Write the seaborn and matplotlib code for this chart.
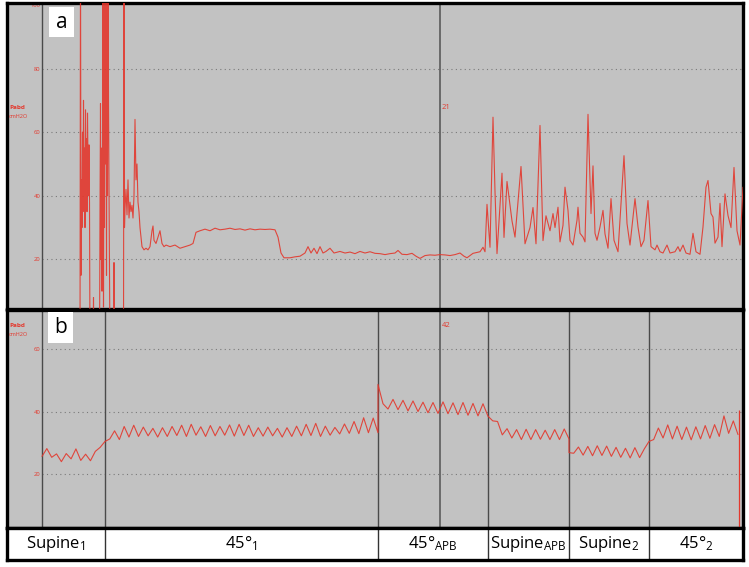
import numpy as np
import pandas as pd
import seaborn as sns
import matplotlib.pyplot as plt
from matplotlib.patches import Rectangle

# Panel a: Pabd trace (cmH2O) against time (s)
a_time = [19.0, 19.25, 19.5, 19.75, 20.0, 20.25, 20.5, 20.75, 21.0, 21.25, 21.5, 21.75,
          22.0, 22.25, 22.5, 22.75, 23.0, 23.25, 23.5, 23.75, 24.0, 25.5, 25.75, 26.0,
          28.75, 29.0, 29.25, 29.5, 29.75, 30.0, 30.25, 30.5, 30.75, 31.0, 31.25, 31.5,
          31.75, 32.0, 32.25, 32.5, 32.75, 33.0, 33.25, 33.5, 34.0, 35.75, 36.0, 36.25,
          40.75, 41.0, 41.25, 41.5, 42.0, 42.5, 43.0, 43.5, 44.0, 44.5, 45.0, 45.5,
          46.0, 46.5, 47.0, 47.5, 48.0, 48.5, 49.0, 49.5, 50.0, 51.0, 52.0, 53.0,
          54.0, 55.0, 55.5, 56.0, 57.0, 58.0, 59.0, 60.0, 61.0, 62.0, 64.0, 66.5,
          69.0, 71.5, 74.0, 75.5, 77.0, 79.0, 81.5, 84.0, 86.5, 89.0, 91.5, 94.0,
          96.5, 99.0, 101.5, 104.0, 106.5, 109.0, 111.5, 114.0, 116.5, 118.0, 119.5, 121.0,
          124.0, 126.5, 129.0, 131.5, 133.0, 134.5, 136.0, 137.5, 139.0, 140.5, 142.0, 144.0,
          146.0, 149.0, 151.5, 154.0, 156.5, 159.0, 161.5, 164.0, 166.5, 169.0, 171.5, 174.0,
          176.5, 178.0, 180.0, 182.5, 185.0, 187.0, 189.0, 191.5, 194.0, 196.5, 199.0, 201.5,
          204.0, 206.5, 209.0, 211.0, 212.5, 215.5, 219.0, 220.5, 221.5, 222.5, 224.0, 225.5,
          226.5, 227.5, 230.0, 231.0, 232.5, 235.0, 236.5, 239.5, 241.5, 244.0, 245.5, 247.0,
          249.0, 250.5, 252.0, 254.0, 255.5, 256.5, 258.0, 259.0, 260.5, 261.5, 263.0, 264.0,
          265.5, 267.5, 268.0, 269.0, 270.5, 271.5, 273.0, 274.5, 275.5, 276.5, 277.5, 279.0,
          280.5, 281.5, 283.0, 284.5, 286.0, 288.0, 291.0, 292.5, 294.0, 296.5, 298.0, 299.5,
          301.0, 303.0, 304.5, 306.5, 307.5, 309.0, 310.5, 312.5, 314.0, 316.5, 318.0, 319.0,
          320.5, 322.0, 324.0, 325.5, 327.0, 329.0, 330.5, 332.0, 333.0, 334.5, 335.5, 336.5,
          338.0, 339.0, 340.0, 341.5, 343.0, 344.5, 346.0, 347.5, 349.0, 350.5]
a_pabd = [-10, 120, 15, 45, 30, 60, 35, 70, 40, 55, 30, 67,
          45, 58, 35, 66, 50, 40, 56, 38, -10, -10, 8, -10,
          -10, 35, 69, 20, 55, 10, 45, 120, 5, 80, 30, 120,
          50, 120, 15, 95, 40, 120, 70, 45, -10, -10, 19, -10,
          -10, 120, 30, 36, 42, 34, 45, 33, 38, 35, 37, 33,
          40, 64, 45, 50, 38, 35, 30, 27, 24, 23, 23.5, 23,
          24, 29, 30.5, 26, 25, 27, 29, 25, 24, 24.5, 24, 24.5,
          23.5, 24, 24.5, 25, 28.5, 29, 29.5, 29, 29.8, 29.3, 29.5, 29.8,
          29.4, 29.6, 29.2, 29.6, 29.3, 29.5, 29.4, 29.5, 29.3, 27, 22, 20.5,
          20.5, 20.8, 21, 22, 24, 22, 23.5, 21.8, 24, 22, 22.5, 23.5,
          22, 22.5, 22, 22.3, 21.8, 22.5, 22, 22.4, 21.9, 21.8, 21.5, 21.8,
          22, 22.8, 21.6, 21.5, 21.9, 21, 20.3, 21.2, 21.4, 21.3, 21.5, 21.4,
          21.2, 21.5, 22, 21, 20.5, 21.9, 22.4, 23.8, 22.4, 37.3, 23.8, 64.7,
          41.4, 21.8, 47.1, 26.9, 44.5, 32.1, 27, 49.2, 24.9, 30, 36.3, 24.9,
          62.1, 25.9, 33.7, 29, 34.4, 30, 36.4, 25.5, 30.7, 42.7, 35.4, 26,
          24.5, 32.3, 36.4, 28.2, 27, 25.5, 65.6, 34.4, 49.4, 28.2, 26, 30.2,
          35.4, 28, 23.5, 39.1, 26, 22.4, 52.6, 31.3, 24.5, 39.1, 30.2, 24,
          26, 38.5, 24, 23, 24.5, 22.4, 22, 24.5, 22, 22.4, 24, 22.5,
          24.5, 22, 21.6, 28.2, 22.4, 21.6, 30.2, 42.7, 44.8, 34.4, 33.3, 25.1,
          27, 37.6, 24, 40.6, 33.8, 30, 48.9, 29, 24.5, 42.7]

# Panel b: troughs and peaks of each breath, one list per posture
b_supine1 = [25.6, 28.1, 25.3, 26.4, 23.9, 26.5, 24.8, 28.0, 24.3, 26.3, 24.2, 27.2, 28.5, 30.4]
b_45_1 = [30.4, 31.2, 33.8, 31.0, 35.2, 31.8, 35.6, 32.0, 35.0, 32.2, 34.6, 31.8, 34.8, 32.0,
          35.2, 32.3, 35.6, 32.0, 35.9, 32.4, 35.1, 32.0, 35.5, 32.2, 35.2, 32.4, 35.7, 32.1,
          35.9, 32.3, 35.6, 32.0, 34.8, 32.1, 35.0, 32.2, 34.6, 31.8, 34.8, 32.0, 35.3, 32.2,
          35.9, 32.3, 36.2, 32.0, 35.3, 32.4, 34.9, 32.8, 36.0, 33.0, 36.8, 32.9, 38.0, 33.2,
          37.9, 33.2]
b_45_apb = [48.7, 42.5, 40.8, 43.9, 40.6, 43.6, 40.2, 43.4, 40.0, 43.0, 39.6, 42.9, 39.4, 43.1,
            39.3, 42.8, 39.0, 42.9, 38.8, 42.6, 38.6, 42.5, 38.5]
b_supine_apb = [38.5, 37.0, 36.8, 32.5, 34.5, 31.5, 34.2, 31.0, 34.3, 31.0, 34.2, 31.1, 34.0,
                31.0, 34.2, 31.0, 34.4, 31.2]
b_supine2 = [26.8, 26.6, 28.6, 26.0, 28.8, 25.8, 29.0, 25.9, 28.9, 25.6, 28.5, 25.3, 28.2,
             25.1, 28.4, 25.2, 28.0, 30.4]
b_45_2 = [30.4, 31.0, 34.7, 31.5, 35.7, 31.2, 35.3, 31.0, 35.0, 30.9, 35.1, 31.2, 35.5, 31.4,
          35.8, 32.0, 38.6, 33.0, 37.0, 32.6]
b_bounds = [0, 31.5, 168, 223, 263.5, 303.5, 348]   # posture changes (s)
b_end_mark = 348.5
b_end_top = 40.5

postures = ['Supine$_1$', '45°$_1$', '45°$_{\\mathrm{APB}}$', 'Supine$_{\\mathrm{APB}}$',
            'Supine$_2$', '45°$_2$']
event_time = 199
event_a, event_b = '21', '42'
a_ticks = [20, 40, 60, 80, 100]
b_ticks = [20, 40, 60]

segments = [b_supine1, b_45_1, b_45_apb, b_supine_apb, b_supine2, b_45_2]
b_time = np.concatenate([np.linspace(t0, t1, len(s))
                         for s, t0, t1 in zip(segments, b_bounds[:-1], b_bounds[1:])])
b_pabd = np.concatenate(segments)
df_a = pd.DataFrame({'t': a_time, 'pabd': a_pabd})
df_b = pd.DataFrame({'t': b_time, 'pabd': b_pabd})

sns.set_style('white')
plt.rcParams['font.family'] = ['Open Sans', 'DejaVu Sans']
plt.rcParams['mathtext.fontset'] = 'custom'
plt.rcParams['mathtext.rm'] = 'Open Sans'
plt.rcParams['mathtext.it'] = 'Open Sans'

RED = '#e3382d'
GRAY = '#c2c2c2'
XLIM = (-17.5, 350.5)
W, H = 749, 567


def box(x0, y0, x1, y1):
    return [x0 / W, 1 - y1 / H, (x1 - x0) / W, (y1 - y0) / H]


fig = plt.figure(figsize=(W / 100, H / 100), dpi=100)
ax_a = fig.add_axes(box(7, 3, 743, 309))
ax_b = fig.add_axes(box(7, 310, 743, 528))
ax_s = fig.add_axes(box(7, 528, 743, 560))


def style_panel(ax, ticks, ylim, letter, lbl_y, unit_gap):
    ax.set_facecolor(GRAY)
    ax.set_xlim(XLIM)
    ax.set_ylim(ylim)
    ax.set_xticks([])
    ax.set_yticks(ticks)
    ax.tick_params(axis='y', length=0, pad=-24, labelsize=4.2, labelcolor=RED)
    ax.set_xlabel('')
    ax.set_ylabel('')
    ax.hlines([t for t in ticks if t < ylim[1] - 1], 0, XLIM[1], colors='#7a7a7a',
              linestyles=(0, (1, 3)), lw=0.8, zorder=1)
    ax.axvline(0, color='#4a4a4a', lw=1, zorder=2)
    for s in ax.spines.values():
        s.set_color('black')
        s.set_linewidth(2.4)
    ax.text(0.003, lbl_y, 'Pabd', transform=ax.transAxes, color=RED, fontsize=4.6,
            fontweight='bold', va='center', ha='left')
    ax.text(0.003, lbl_y - unit_gap, 'cmH2O', transform=ax.transAxes, color=RED,
            fontsize=4.0, va='center', ha='left')
    ax.add_patch(Rectangle(letter[1], 25 / 736, letter[2], transform=ax.transAxes,
                           facecolor='white', edgecolor='none', zorder=5))
    ax.text(letter[1][0] + 12.5 / 736, letter[1][1] + letter[2] / 2, letter[0],
            transform=ax.transAxes, fontsize=15, color='black', ha='center', va='center',
            zorder=6)


# panel a
sns.lineplot(data=df_a, x='t', y='pabd', ax=ax_a, color=RED, lw=0.8, alpha=0.9,
             estimator=None, sort=False, zorder=3)
style_panel(ax_a, a_ticks, (4.4, 100.6), ('a', (42 / 736, 272 / 306), 30 / 306), 0.66, 0.03)
ax_a.axvline(event_time, color='#5a5a5a', lw=1.2, zorder=2)
ax_a.text(event_time + 0.8, 67.8, event_a, color=RED, fontsize=5.5, va='center', ha='left')

# panel b
sns.lineplot(data=df_b, x='t', y='pabd', ax=ax_b, color=RED, lw=0.8, alpha=0.9,
             estimator=None, sort=False, zorder=3)
ax_b.vlines(b_end_mark, 0, b_end_top, color=RED, lw=0.9, zorder=3)
style_panel(ax_b, b_ticks, (2.6, 72.6), ('b', (41 / 736, 184 / 217), 31 / 217), 0.931, 0.042)
ax_b.axvline(event_time, color='#6a6a6a', lw=1.4, zorder=2)
for t in b_bounds[1:-1]:
    ax_b.axvline(t, color='#4a4a4a', lw=1, zorder=2)
ax_b.text(event_time + 0.8, 67.7, event_b, color=RED, fontsize=5.5, va='center', ha='left')

# posture strip
ax_s.set_facecolor('white')
ax_s.set_xlim(XLIM)
ax_s.set_ylim(0, 1)
ax_s.set_xticks([])
ax_s.set_yticks([])
for s in ax_s.spines.values():
    s.set_color('black')
    s.set_linewidth(2.4)
edges = [XLIM[0]] + b_bounds[1:-1] + [XLIM[1]]
for t in b_bounds[1:-1]:
    ax_s.axvline(t, color='#333333', lw=1)
for name, l, r in zip(postures, edges[:-1], edges[1:]):
    ax_s.text((l + r) / 2, 0.5, name, ha='center', va='center', fontsize=12, color='black')

fig.savefig('out.png', dpi=100, facecolor='white')
